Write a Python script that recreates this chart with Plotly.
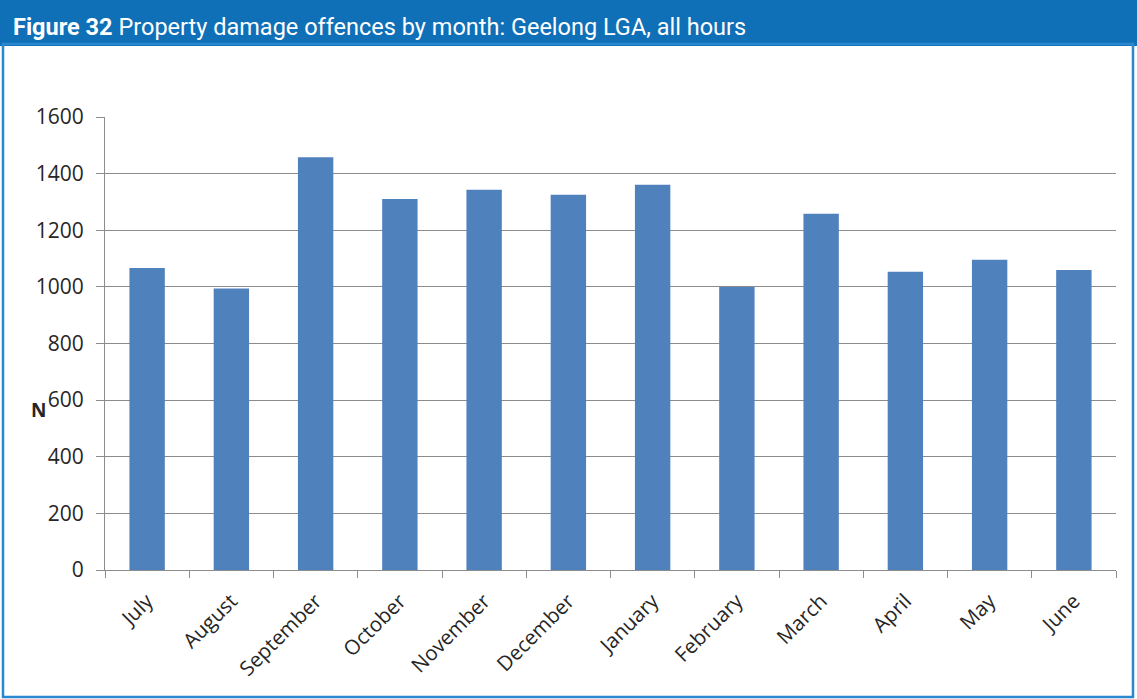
import plotly.graph_objects as go

months = ["July", "August", "September", "October", "November", "December",
          "January", "February", "March", "April", "May", "June"]
offences = [1067, 994, 1458, 1310, 1343, 1325, 1361, 1000, 1258, 1053, 1096, 1060]
y_ticks = [0, 200, 400, 600, 800, 1000, 1200, 1400, 1600]

W, H = 1137, 699
L, R, T, B = 105, 21, 117, 129
pw, ph = W - L - R, H - T - B


def px_x(p):
    return (p - L) / pw


def px_y(p):
    return (H - B - p) / ph


fig = go.Figure()
fig.add_trace(go.Bar(x=months, y=offences, marker=dict(color="#4f81bd", line=dict(width=0)),
                     hoverinfo="x+y"))

fig.update_layout(
    width=W, height=H,
    margin=dict(l=L, r=R, t=T, b=B),
    paper_bgcolor="white", plot_bgcolor="white",
    bargap=0.58,
    showlegend=False,
    font=dict(family="Open Sans, Liberation Sans, sans-serif", color="#262626"),
    xaxis=dict(
        type="category", tickangle=-45, tickson="boundaries",
        ticks="outside", ticklen=7, tickcolor="#8c8c8c",
        showline=True, linecolor="#8c8c8c", linewidth=1,
        showgrid=False, tickfont=dict(size=20.5, color="#262626"),
        ticklabelstandoff=10,
    ),
    yaxis=dict(
        range=[0, 1600], tickvals=y_ticks, ticks="outside", ticklen=8,
        tickcolor="#8c8c8c", showline=True, linecolor="#8c8c8c", linewidth=1,
        showgrid=True, gridcolor="#8c8c8c", gridwidth=1, zeroline=False,
        tickfont=dict(size=21, color="#262626"), ticklabelstandoff=8,
    ),
)

# Header band
fig.add_shape(type="rect", xref="paper", yref="paper",
              x0=px_x(0), x1=px_x(W), y0=px_y(46), y1=px_y(0),
              fillcolor="#0f70b7", line=dict(width=0), layer="below")
# Frame border
fig.add_shape(type="rect", xref="paper", yref="paper",
              x0=px_x(3), x1=px_x(W - 4), y0=px_y(H - 2), y1=px_y(44),
              fillcolor="rgba(0,0,0,0)", line=dict(color="#2a88cf", width=2.5))

fig.add_annotation(
    xref="paper", yref="paper", x=px_x(11), y=px_y(27),
    xanchor="left", yanchor="middle", showarrow=False,
    text="<b>Figure 32</b> Property damage offences by month: Geelong LGA, all hours",
    font=dict(family="Roboto, Liberation Sans, sans-serif", size=23.5, color="white"),
)

fig.add_annotation(
    xref="paper", yref="paper", x=px_x(38), y=px_y(410),
    xanchor="center", yanchor="middle", showarrow=False,
    text="<b>N</b>", font=dict(size=19, color="#262626"),
)

fig.write_html("out.html", config={"displayModeBar": False},
               post_script="document.body.style.margin='0';document.body.style.overflow='hidden';")
